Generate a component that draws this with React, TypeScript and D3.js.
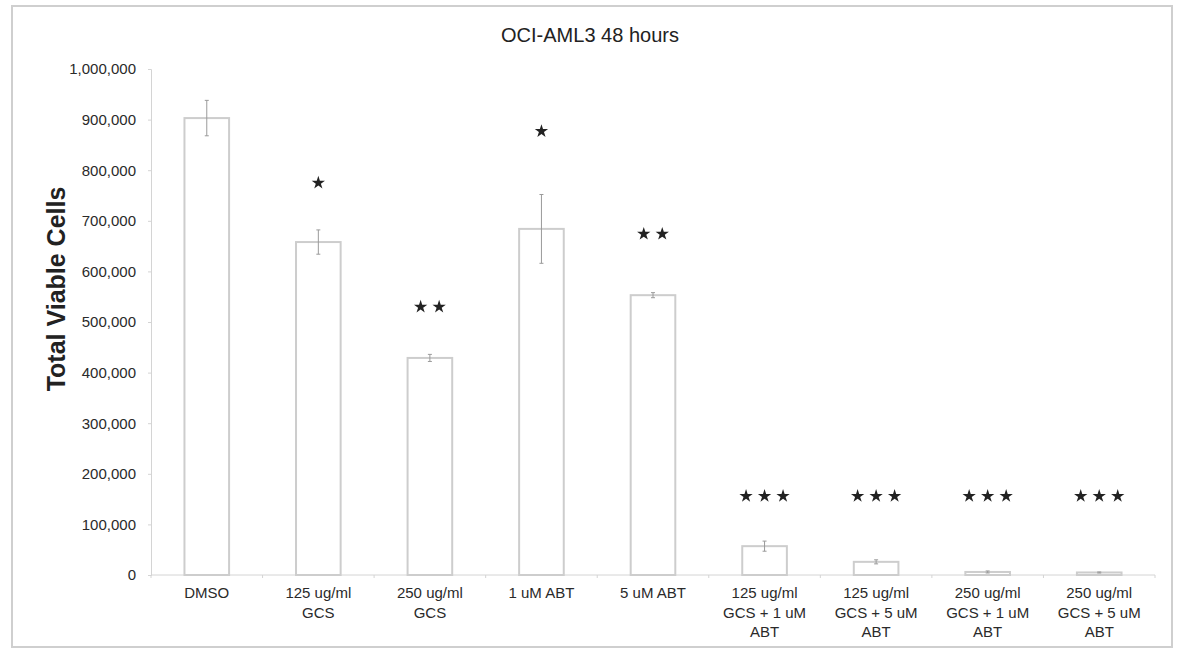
import React, { useEffect, useRef } from 'react';
import * as d3 from 'd3';

// values
const categories = [
  ['DMSO'],
  ['125 ug/ml', 'GCS'],
  ['250 ug/ml', 'GCS'],
  ['1 uM ABT'],
  ['5 uM ABT'],
  ['125 ug/ml', 'GCS + 1 uM', 'ABT'],
  ['125 ug/ml', 'GCS + 5 uM', 'ABT'],
  ['250 ug/ml', 'GCS + 1 uM', 'ABT'],
  ['250 ug/ml', 'GCS + 5 uM', 'ABT'],
];
const means = [903000, 658000, 429000, 684000, 553000, 57000, 26000, 6000, 5000];
const errors = [35000, 24000, 7000, 68000, 5000, 10000, 4000, 2000, 1000];
const stars = [0, 1, 2, 1, 2, 3, 3, 3, 3];
const starLevels = [0, 775000, 530000, 877000, 674000, 156000, 156000, 156000, 156000];
const yTicks = d3.range(0, 1000001, 100000);

const W = 1178;
const H = 650;
const M = { top: 69, right: 23, bottom: 75, left: 151 };
const FONT = 'Liberation Sans, Arial, sans-serif';

function ViabilityChart() {
  const ref = useRef<SVGSVGElement>(null);

  useEffect(() => {
    const svg = d3.select(ref.current);
    svg.selectAll('*').remove();

    const idx = d3.range(categories.length);
    const x = d3
      .scaleBand<number>()
      .domain(idx)
      .range([M.left, W - M.right])
      .paddingInner(0.6)
      .paddingOuter(0.3);
    const y = d3.scaleLinear().domain([0, 1000000]).range([H - M.bottom, M.top]);

    // outer frame
    svg
      .append('rect')
      .attr('x', 12)
      .attr('y', 6)
      .attr('width', 1160)
      .attr('height', 641)
      .attr('fill', 'white')
      .attr('stroke', '#cfcfcf')
      .attr('stroke-width', 2);

    svg
      .append('text')
      .attr('x', 590)
      .attr('y', 42)
      .attr('text-anchor', 'middle')
      .attr('font-family', FONT)
      .attr('font-size', 20)
      .attr('fill', '#222')
      .text('OCI-AML3 48 hours');

    // y axis
    const yAxis = d3
      .axisLeft(y)
      .tickValues(yTicks)
      .tickSize(3)
      .tickPadding(12)
      .tickFormat((d) => d3.format(',')(d as number));
    svg
      .append('g')
      .attr('transform', `translate(${M.left},0)`)
      .call(yAxis)
      .call((g) => g.selectAll('.domain, .tick line').attr('stroke', '#d4d4d4'))
      .call((g) =>
        g
          .selectAll('.tick text')
          .attr('font-family', FONT)
          .attr('font-size', 15)
          .attr('fill', '#2a2a2a')
      );

    svg
      .append('text')
      .attr('transform', `translate(65,289) rotate(-90)`)
      .attr('text-anchor', 'middle')
      .attr('font-family', FONT)
      .attr('font-weight', 'bold')
      .attr('font-size', 25)
      .attr('fill', '#222')
      .text('Total Viable Cells');

    // x axis: baseline with small ticks between categories
    const xg = svg.append('g');
    xg.append('line')
      .attr('x1', M.left)
      .attr('x2', W - M.right)
      .attr('y1', y(0))
      .attr('y2', y(0))
      .attr('stroke', '#d4d4d4');
    xg.selectAll('line.tk')
      .data(d3.range(categories.length + 1))
      .join('line')
      .attr('class', 'tk')
      .attr('x1', (i) => M.left + (i * (W - M.right - M.left)) / categories.length)
      .attr('x2', (i) => M.left + (i * (W - M.right - M.left)) / categories.length)
      .attr('y1', y(0))
      .attr('y2', y(0) + 3)
      .attr('stroke', '#d4d4d4');

    xg.selectAll('text')
      .data(idx)
      .join('text')
      .attr('x', (i) => x(i)! + x.bandwidth() / 2)
      .attr('y', y(0) + 23)
      .attr('text-anchor', 'middle')
      .attr('font-family', FONT)
      .attr('font-size', 15)
      .attr('fill', '#2a2a2a')
      .selectAll('tspan')
      .data((i) => categories[i])
      .join('tspan')
      .attr('x', function () {
        return (this.parentNode as SVGTextElement).getAttribute('x');
      })
      .attr('dy', (_, j) => (j === 0 ? 0 : 19.5))
      .text((d) => d);

    // bars
    svg
      .append('g')
      .selectAll('rect')
      .data(idx)
      .join('rect')
      .attr('x', (i) => x(i)!)
      .attr('y', (i) => y(means[i]))
      .attr('width', x.bandwidth())
      .attr('height', (i) => y(0) - y(means[i]))
      .attr('fill', 'white')
      .attr('stroke', '#cdcdcd')
      .attr('stroke-width', 2);

    // error bars
    const eg = svg.append('g').attr('stroke', '#9a9a9a').attr('stroke-width', 1);
    idx.forEach((i) => {
      const cx = x(i)! + x.bandwidth() / 2;
      const lo = y(Math.max(0, means[i] - errors[i]));
      const hi = y(means[i] + errors[i]);
      eg.append('line').attr('x1', cx).attr('x2', cx).attr('y1', lo).attr('y2', hi);
      [lo, hi].forEach((v) =>
        eg.append('line').attr('x1', cx - 2).attr('x2', cx + 2).attr('y1', v).attr('y2', v)
      );
    });

    // significance stars
    const star = d3.symbol().type(d3.symbolStar).size(55);
    const sg = svg.append('g').attr('fill', '#222');
    idx.forEach((i) => {
      const n = stars[i];
      if (!n) return;
      const cx = x(i)! + x.bandwidth() / 2;
      for (let k = 0; k < n; k++) {
        const sx = cx + (k - (n - 1) / 2) * 18.5;
        sg.append('path')
          .attr('d', star()!)
          .attr('transform', `translate(${sx},${y(starLevels[i])})`);
      }
    });
  }, []);

  return (
    <svg
      ref={ref}
      width={W}
      height={H}
      style={{ position: 'absolute', left: 0, top: 0, background: 'white' }}
    />
  );
}

export default function App() {
  return <ViabilityChart />;
}
